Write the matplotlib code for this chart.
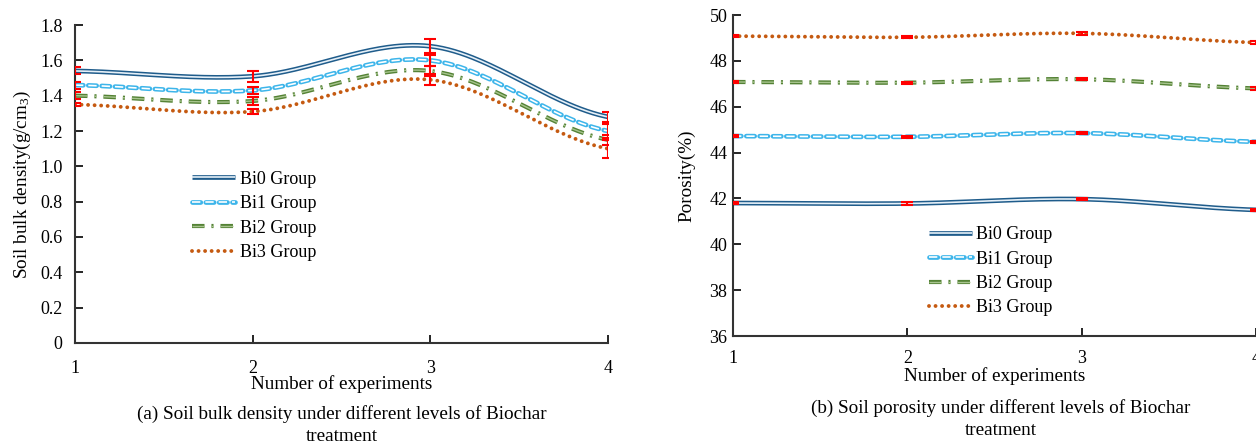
import matplotlib
matplotlib.use('Agg')
import matplotlib.pyplot as plt
import numpy as np

plt.rcParams['font.family'] = ['Liberation Serif', 'DejaVu Serif']
plt.rcParams['mathtext.fontset'] = 'custom'
plt.rcParams['mathtext.rm'] = 'Liberation Serif'
plt.rcParams['mathtext.it'] = 'Liberation Serif:italic'
plt.rcParams['lines.scale_dashes'] = False

# ── 数据 ──────────────────────────────────────────────
x = [1, 2, 3, 4]
groups = ['Bi0 Group', 'Bi1 Group', 'Bi2 Group', 'Bi3 Group']

density = {
    'Bi0 Group': [1.54, 1.51, 1.68, 1.28],
    'Bi1 Group': [1.46, 1.43, 1.60, 1.20],
    'Bi2 Group': [1.40, 1.37, 1.54, 1.15],
    'Bi3 Group': [1.35, 1.31, 1.49, 1.10],
}
density_err = {
    'Bi0 Group': [0.02, 0.03, 0.04, 0.03],
    'Bi1 Group': [0.02, 0.02, 0.03, 0.04],
    'Bi2 Group': [0.02, 0.02, 0.03, 0.03],
    'Bi3 Group': [0.01, 0.015, 0.03, 0.05],
}
porosity = {
    'Bi0 Group': [41.80, 41.78, 41.97, 41.50],
    'Bi1 Group': [44.72, 44.69, 44.85, 44.47],
    'Bi2 Group': [47.08, 47.05, 47.20, 46.80],
    'Bi3 Group': [49.08, 49.03, 49.20, 48.80],
}
porosity_err = {
    'Bi0 Group': [0.05, 0.05, 0.05, 0.05],
    'Bi1 Group': [0.05, 0.05, 0.05, 0.05],
    'Bi2 Group': [0.05, 0.05, 0.05, 0.05],
    'Bi3 Group': [0.05, 0.05, 0.05, 0.05],
}

# ── 样式 ──────────────────────────────────────────────
STYLES = {
    'Bi0 Group': dict(outer='#1F5C8B', inner='#E6F0F8', lw=3.4, ilw=1.2, dashes=None, cap='butt'),
    'Bi1 Group': dict(outer='#3DB5EA', inner='#FFFFFF', lw=3.4, ilw=1.2, dashes=(6, 3.6), cap='round'),
    'Bi2 Group': dict(outer='#548235', inner='#A7C48E', lw=3.0, ilw=1.0, dashes=(9, 5, 1.5, 5), cap='butt'),
    'Bi3 Group': dict(outer='#C55A11', inner=None, lw=2.8, ilw=0, dashes=(0.01, 4.7), cap='round'),
}
FS = 13.8


def smooth(xs, ys, n=60):
    """Catmull-Rom 平滑曲线（类似 Excel 平滑线）"""
    xs = np.asarray(xs, float)
    ys = np.asarray(ys, float)
    px = np.concatenate([[2 * xs[0] - xs[1]], xs, [2 * xs[-1] - xs[-2]]])
    py = np.concatenate([[ys[0]], ys, [ys[-1]]])
    outx, outy = [], []
    t = np.linspace(0, 1, n)
    for i in range(1, len(px) - 2):
        p0, p1, p2, p3 = py[i - 1], py[i], py[i + 1], py[i + 2]
        q0, q1, q2, q3 = px[i - 1], px[i], px[i + 1], px[i + 2]
        cy = 0.5 * ((2 * p1) + (-p0 + p2) * t + (2 * p0 - 5 * p1 + 4 * p2 - p3) * t ** 2
                    + (-p0 + 3 * p1 - 3 * p2 + p3) * t ** 3)
        cx = 0.5 * ((2 * q1) + (-q0 + q2) * t + (2 * q0 - 5 * q1 + 4 * q2 - q3) * t ** 2
                    + (-q0 + 3 * q1 - 3 * q2 + q3) * t ** 3)
        outx.extend(cx)
        outy.extend(cy)
    return np.array(outx), np.array(outy)


def draw_series(ax, data, err):
    handles = []
    for g in groups:
        st = STYLES[g]
        sx, sy = smooth(x, data[g])
        kw = dict(color=st['outer'], lw=st['lw'], solid_capstyle='butt',
                  dash_capstyle=st['cap'])
        if st['dashes']:
            kw['dashes'] = st['dashes']
        l1, = ax.plot(sx, sy, **kw)
        hs = [l1]
        if st['inner']:
            kw2 = dict(color=st['inner'], lw=st['ilw'], solid_capstyle='butt', dash_capstyle='butt')
            if st['dashes']:
                kw2['dashes'] = st['dashes']
            l2, = ax.plot(sx, sy, **kw2)
            hs.append(l2)
        handles.append(tuple(hs))
        ax.errorbar(x, data[g], yerr=err[g], fmt='none', ecolor='red',
                    elinewidth=1.5, capsize=4, capthick=1.5, zorder=5)
    return handles


def style_axes(ax, xpad, ypad):
    ax.spines['top'].set_visible(False)
    ax.spines['right'].set_visible(False)
    for s in ('left', 'bottom'):
        ax.spines[s].set_linewidth(1.5)
        ax.spines[s].set_color('#333333')
    ax.tick_params(axis='both', direction='in', length=6, width=1.2, labelsize=13)
    ax.tick_params(axis='x', pad=xpad)
    ax.tick_params(axis='y', pad=ypad)
    ax.set_xlim(1, 4)
    ax.set_xticks(x)


fig = plt.figure(figsize=(12.56, 4.47), dpi=100)

# (a) 容重
ax1 = fig.add_axes([0.0597, 0.2327, 0.4244, 0.7113])
h1 = draw_series(ax1, density, density_err)
style_axes(ax1, xpad=12, ypad=9)
ax1.set_ylim(0, 1.8)
ax1.set_yticks(np.arange(0, 1.81, 0.2))
ax1.set_yticklabels(['0'] + ['%.1f' % v for v in np.arange(0.2, 1.81, 0.2)])
ax1.set_xlabel('Number of experiments', fontsize=FS, labelpad=-1)
ax1.set_ylabel('Soil bulk density(g/cm$_3$)', fontsize=FS, labelpad=5)
ax1.legend(h1, groups, loc='upper left', bbox_to_anchor=(0.206, 0.565), frameon=False,
           fontsize=13, handlelength=2.4, handletextpad=0.25, labelspacing=0.42,
           borderaxespad=0)
fig.text(0.2725, 0.049, '(a) Soil bulk density under different levels of Biochar\ntreatment',
         ha='center', va='center', fontsize=FS, linespacing=1.4)

# (b) 孔隙度
ax2 = fig.add_axes([0.5836, 0.2483, 0.4164, 0.7181])
h2 = draw_series(ax2, porosity, porosity_err)
style_axes(ax2, xpad=10, ypad=4)
ax2.set_ylim(36, 50)
ax2.set_yticks(np.arange(36, 51, 2))
ax2.set_xlabel('Number of experiments', fontsize=FS, labelpad=0)
ax2.set_ylabel('Porosity(%)', fontsize=FS, labelpad=10)
ax2.legend(h2, groups, loc='upper left', bbox_to_anchor=(0.36, 0.364), frameon=False,
           fontsize=13, handlelength=2.4, handletextpad=0.25, labelspacing=0.4,
           borderaxespad=0)
fig.text(0.797, 0.062, '(b) Soil porosity under different levels of Biochar\ntreatment',
         ha='center', va='center', fontsize=FS, linespacing=1.4)

fig.savefig('out.png', dpi=100)
